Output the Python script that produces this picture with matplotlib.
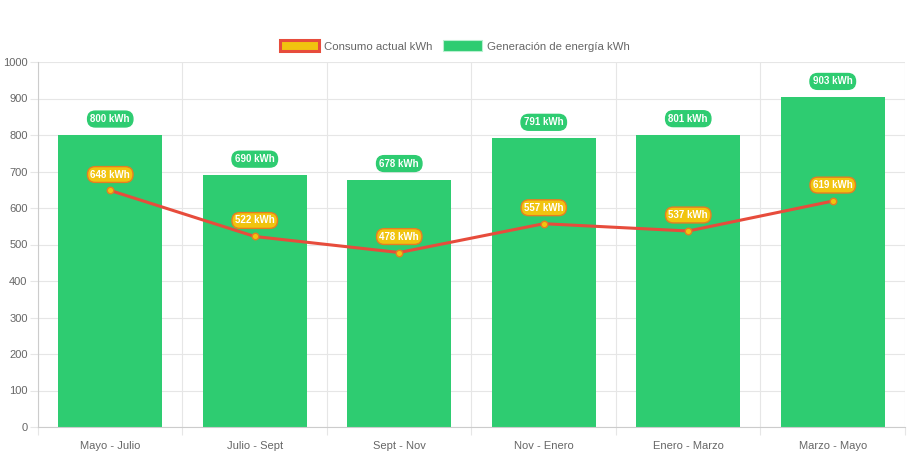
import matplotlib
matplotlib.use("Agg")
from matplotlib import pyplot as plt
from matplotlib.patches import Patch
import numpy as np

plt.rcParams['font.family'] = ['Liberation Sans', 'DejaVu Sans']

periods = ['Mayo - Julio', 'Julio - Sept', 'Sept - Nov', 'Nov - Enero', 'Enero - Marzo', 'Marzo - Mayo']
generacion = [800, 690, 678, 791, 801, 903]
consumo = [648, 522, 478, 557, 537, 619]
yticks = list(range(0, 1001, 100))

green = '#2ecc71'
yellow = '#f1c40f'
red = '#e74c3c'
grid_c = '#e6e6e6'
text_c = '#666666'

fig = plt.figure(figsize=(9.1, 4.54), dpi=100)
ax = fig.add_axes([38 / 910, 1 - 427 / 454, 867 / 910, 365 / 454])

x = np.arange(len(periods))
ax.bar(x, generacion, width=0.72, color=green, zorder=2)
ax.plot(x, consumo, color=red, lw=2.2, zorder=3)
ax.scatter(x, consumo, s=22, color=yellow, edgecolor='#e67e22', linewidth=1, zorder=4)

# etiquetas de valores
for xi, v in zip(x, generacion):
    ax.annotate(f'{v} kWh', (xi, v), xytext=(0, 11.5), textcoords='offset points',
                ha='center', va='center', fontsize=7, fontweight='bold', color='white',
                bbox=dict(boxstyle='round,pad=0.3,rounding_size=0.8', fc=green, ec=green), zorder=5)
for xi, v in zip(x, consumo):
    ax.annotate(f'{v} kWh', (xi, v), xytext=(0, 11.5), textcoords='offset points',
                ha='center', va='center', fontsize=7, fontweight='bold', color='white',
                bbox=dict(boxstyle='round,pad=0.3,rounding_size=0.8', fc=yellow, ec='#e67e22', lw=1),
                zorder=6)

ax.set_xlim(-0.5, len(periods) - 0.5)
ax.set_ylim(0, 1000)
ax.set_yticks(yticks)
ax.set_xticks(x)
ax.set_xticklabels(periods)
ax.set_xticks(np.arange(-0.5, len(periods)), minor=True)
ax.tick_params(axis='x', which='major', length=0, pad=10, labelsize=8, labelcolor=text_c)
ax.tick_params(axis='x', which='minor', length=5.5, color=grid_c, width=0.8)
ax.tick_params(axis='y', length=5.5, color=grid_c, width=0.8, labelsize=8, labelcolor=text_c, pad=2)
ax.grid(axis='y', color=grid_c, lw=0.8, zorder=0)
ax.grid(axis='x', which='minor', color=grid_c, lw=0.8, zorder=0)
ax.set_axisbelow(True)
for s in ['top', 'right']:
    ax.spines[s].set_visible(False)
ax.spines['left'].set_color('#cccccc')
ax.spines['bottom'].set_color('#cccccc')

handles = [Patch(facecolor=yellow, edgecolor=red, linewidth=2.2, label='Consumo actual kWh'),
           Patch(facecolor=green, edgecolor='#b8f0cf', linewidth=0.8, label='Generación de energía kWh')]
fig.legend(handles=handles, loc='center', bbox_to_anchor=(0.5, 1 - 46 / 454), ncol=2, frameon=False,
           fontsize=8.2, labelcolor=text_c, handlelength=3.4, handleheight=1.1, columnspacing=0.9,
           handletextpad=0.5)

fig.savefig('out.png', dpi=100)
